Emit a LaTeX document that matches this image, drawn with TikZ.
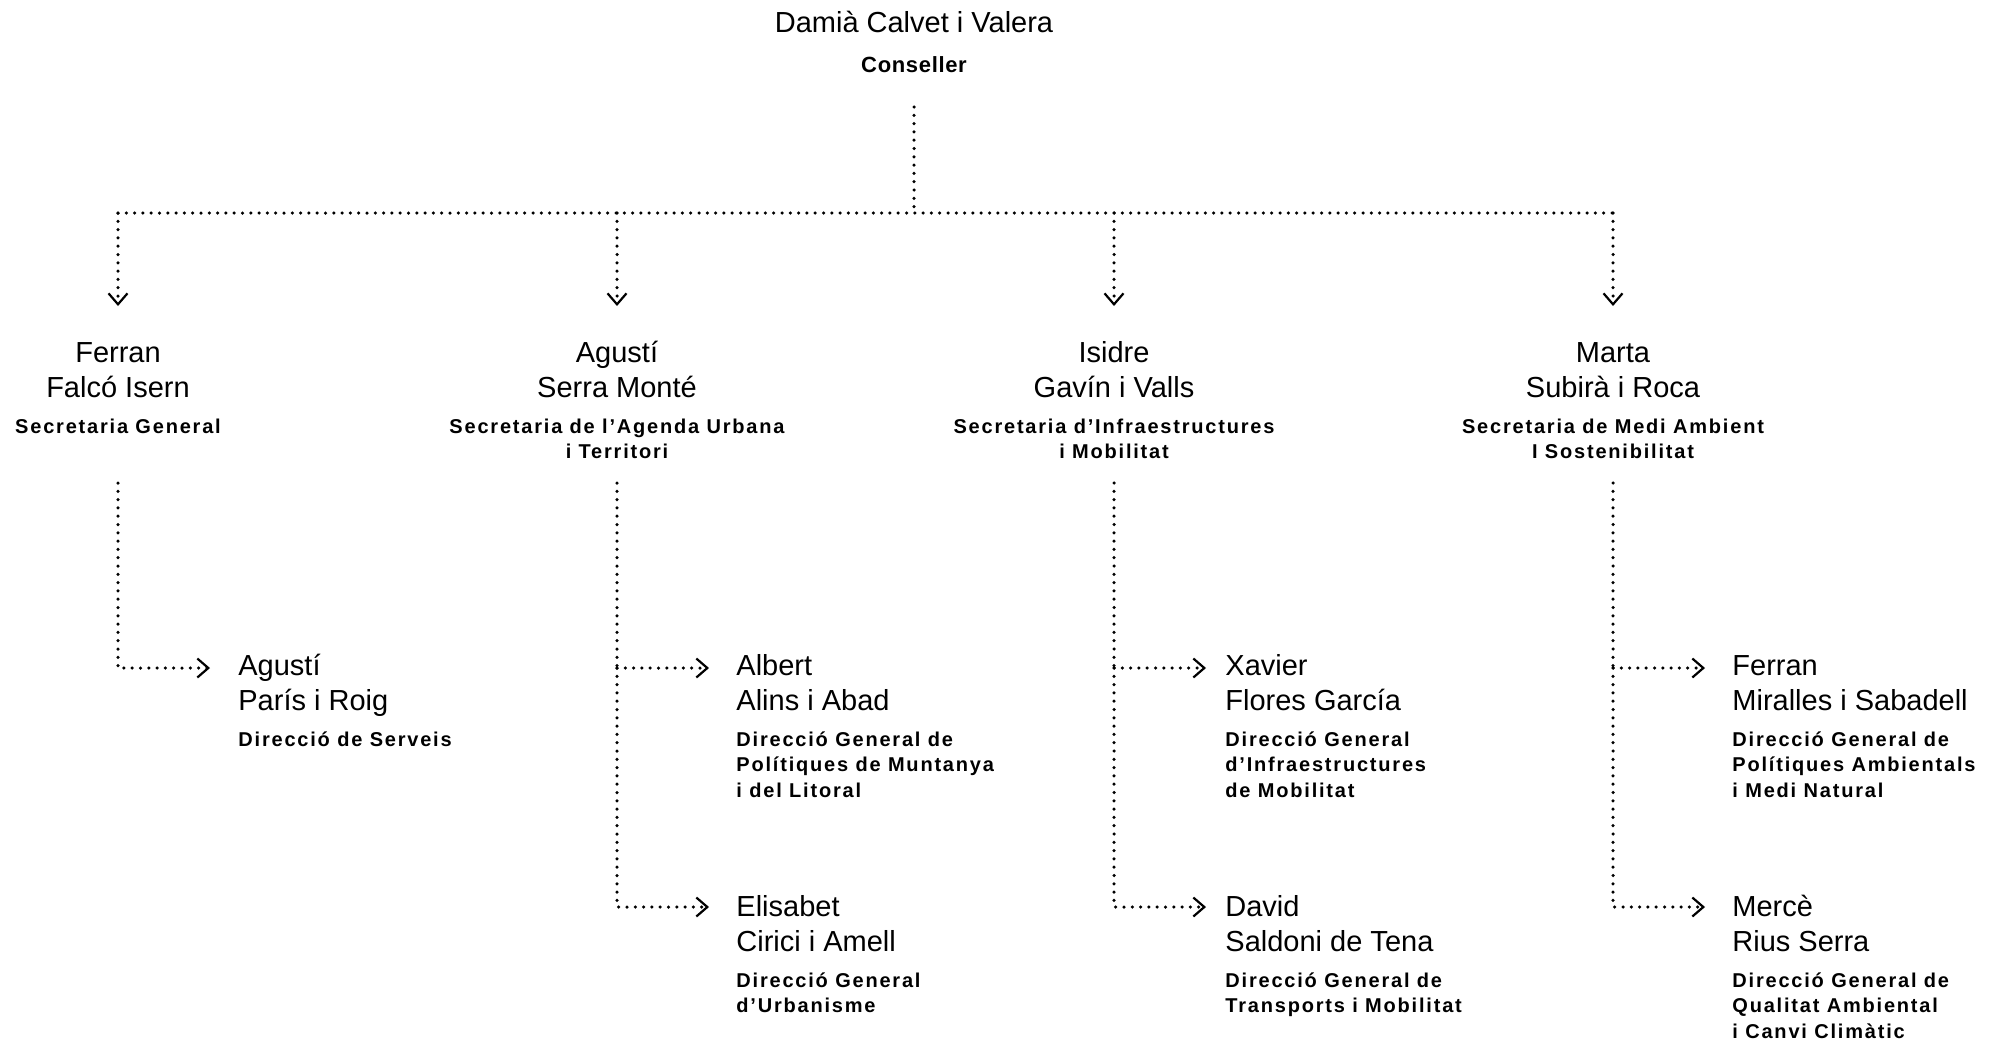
\documentclass[tikz,border=0pt]{standalone}
\usepackage{fontspec}
\setmainfont{Liberation Sans}
\newfontfamily\rolefont{Liberation Sans}[LetterSpace=9]
\newfontfamily\consfont{Liberation Sans}[LetterSpace=3]
\usetikzlibrary{arrows.meta}
\newcommand\cbox[1]{\begin{tabular}[t]{@{}c@{}}#1\end{tabular}}
\newcommand\lbox[1]{\begin{tabular}[t]{@{}l@{}}#1\end{tabular}}
\tikzset{
  namefont/.style={inner sep=0pt, font=\fontsize{14.5pt}{17.5pt}\selectfont},
  rolefnt/.style={inner sep=0pt, font=\rolefont\bfseries\fontsize{10pt}{12.75pt}\selectfont},
  nameC/.style={namefont, anchor=base},
  nameL/.style={namefont, anchor=base west},
  roleC/.style={rolefnt, anchor=base},
  roleL/.style={rolefnt, anchor=base west},
  dotl/.style={line width=1.75pt, line cap=round, dash pattern=on 0pt off 4.15pt},
  arr/.style={-{Straight Barb[length=5.5pt,width=9.5pt,line width=1.1pt]}},
}
\begin{document}
\begin{tikzpicture}[x=0.5pt,y=-0.5pt]
\useasboundingbox (0,0) rectangle (1995,1045);
% top
\node[nameC] (cons) at (914,32) {Damià Calvet i Valera};
\node[inner sep=0pt, anchor=base, font=\consfont\bfseries\fontsize{11pt}{13pt}\selectfont] (consr) at (914,72) {Conseller};
\coordinate (c0) at (914,107);
\coordinate (hb) at (914,213);
\draw[dotl] (c0) -- (hb);
\foreach \i/\x in {1/118,2/617,3/1114,4/1613}{
  \coordinate (j\i) at (\x,213);
  \coordinate (t\i) at (\x,306);
  \coordinate (v\i) at (\x,483);
  \coordinate (b\i) at (\x,668);
  \coordinate (w\i) at (\x,907);
  \coordinate (ka\i) at (\x+92,668);
  \coordinate (kb\i) at (\x+92,907);
}
\draw[dotl] (j1) -- (j4);
\foreach \i in {1,2,3,4}{
  \draw[dotl,arr] (j\i) -- (t\i);
}
% level 2
\node[nameC] (s1) at (118,362) {\cbox{Ferran\\Falcó Isern}};
\node[roleC] (s1r) at (118,433) {\cbox{Secretaria General}};
\node[nameC] (s2) at (617,362) {\cbox{Agustí\\Serra Monté}};
\node[roleC] (s2r) at (617,433) {\cbox{Secretaria de l’Agenda Urbana\\i Territori}};
\node[nameC] (s3) at (1114,362) {\cbox{Isidre\\Gavín i Valls}};
\node[roleC] (s3r) at (1114,433) {\cbox{Secretaria d’Infraestructures\\i Mobilitat}};
\node[nameC] (s4) at (1613,362) {\cbox{Marta\\Subirà i Roca}};
\node[roleC] (s4r) at (1613,433) {\cbox{Secretaria de Medi Ambient\\I Sostenibilitat}};
% level 2 -> 3 connectors
\draw[dotl,arr] (v1) -- (b1) -- (ka1);
\foreach \i in {2,3,4}{
  \draw[dotl] (v\i) -- (b\i);
  \draw[dotl,arr] (b\i) -- (w\i) -- (kb\i);
  \draw[dotl,arr] (b\i) -- (ka\i);
}
% level 3
\node[nameL] (d1) at (238,675) {\lbox{Agustí\\París i Roig}};
\node[roleL] (d1r) at (238,746) {\lbox{Direcció de Serveis}};
\node[nameL] (d2) at (736,675) {\lbox{Albert\\Alins i Abad}};
\node[roleL] (d2r) at (736,746) {\lbox{Direcció General de\\Polítiques de Muntanya\\i del Litoral}};
\node[nameL] (d3) at (736,916) {\lbox{Elisabet\\Cirici i Amell}};
\node[roleL] (d3r) at (736,987) {\lbox{Direcció General\\d’Urbanisme}};
\node[nameL] (d4) at (1225,675) {\lbox{Xavier\\Flores García}};
\node[roleL] (d4r) at (1225,746) {\lbox{Direcció General\\d’Infraestructures\\de Mobilitat}};
\node[nameL] (d5) at (1225,916) {\lbox{David\\Saldoni de Tena}};
\node[roleL] (d5r) at (1225,987) {\lbox{Direcció General de\\Transports i Mobilitat}};
\node[nameL] (d6) at (1732,675) {\lbox{Ferran\\Miralles i Sabadell}};
\node[roleL] (d6r) at (1732,746) {\lbox{Direcció General de\\Polítiques Ambientals\\i Medi Natural}};
\node[nameL] (d7) at (1732,916) {\lbox{Mercè\\Rius Serra}};
\node[roleL] (d7r) at (1732,987) {\lbox{Direcció General de\\Qualitat Ambiental\\i Canvi Climàtic}};
\end{tikzpicture}
\end{document}
